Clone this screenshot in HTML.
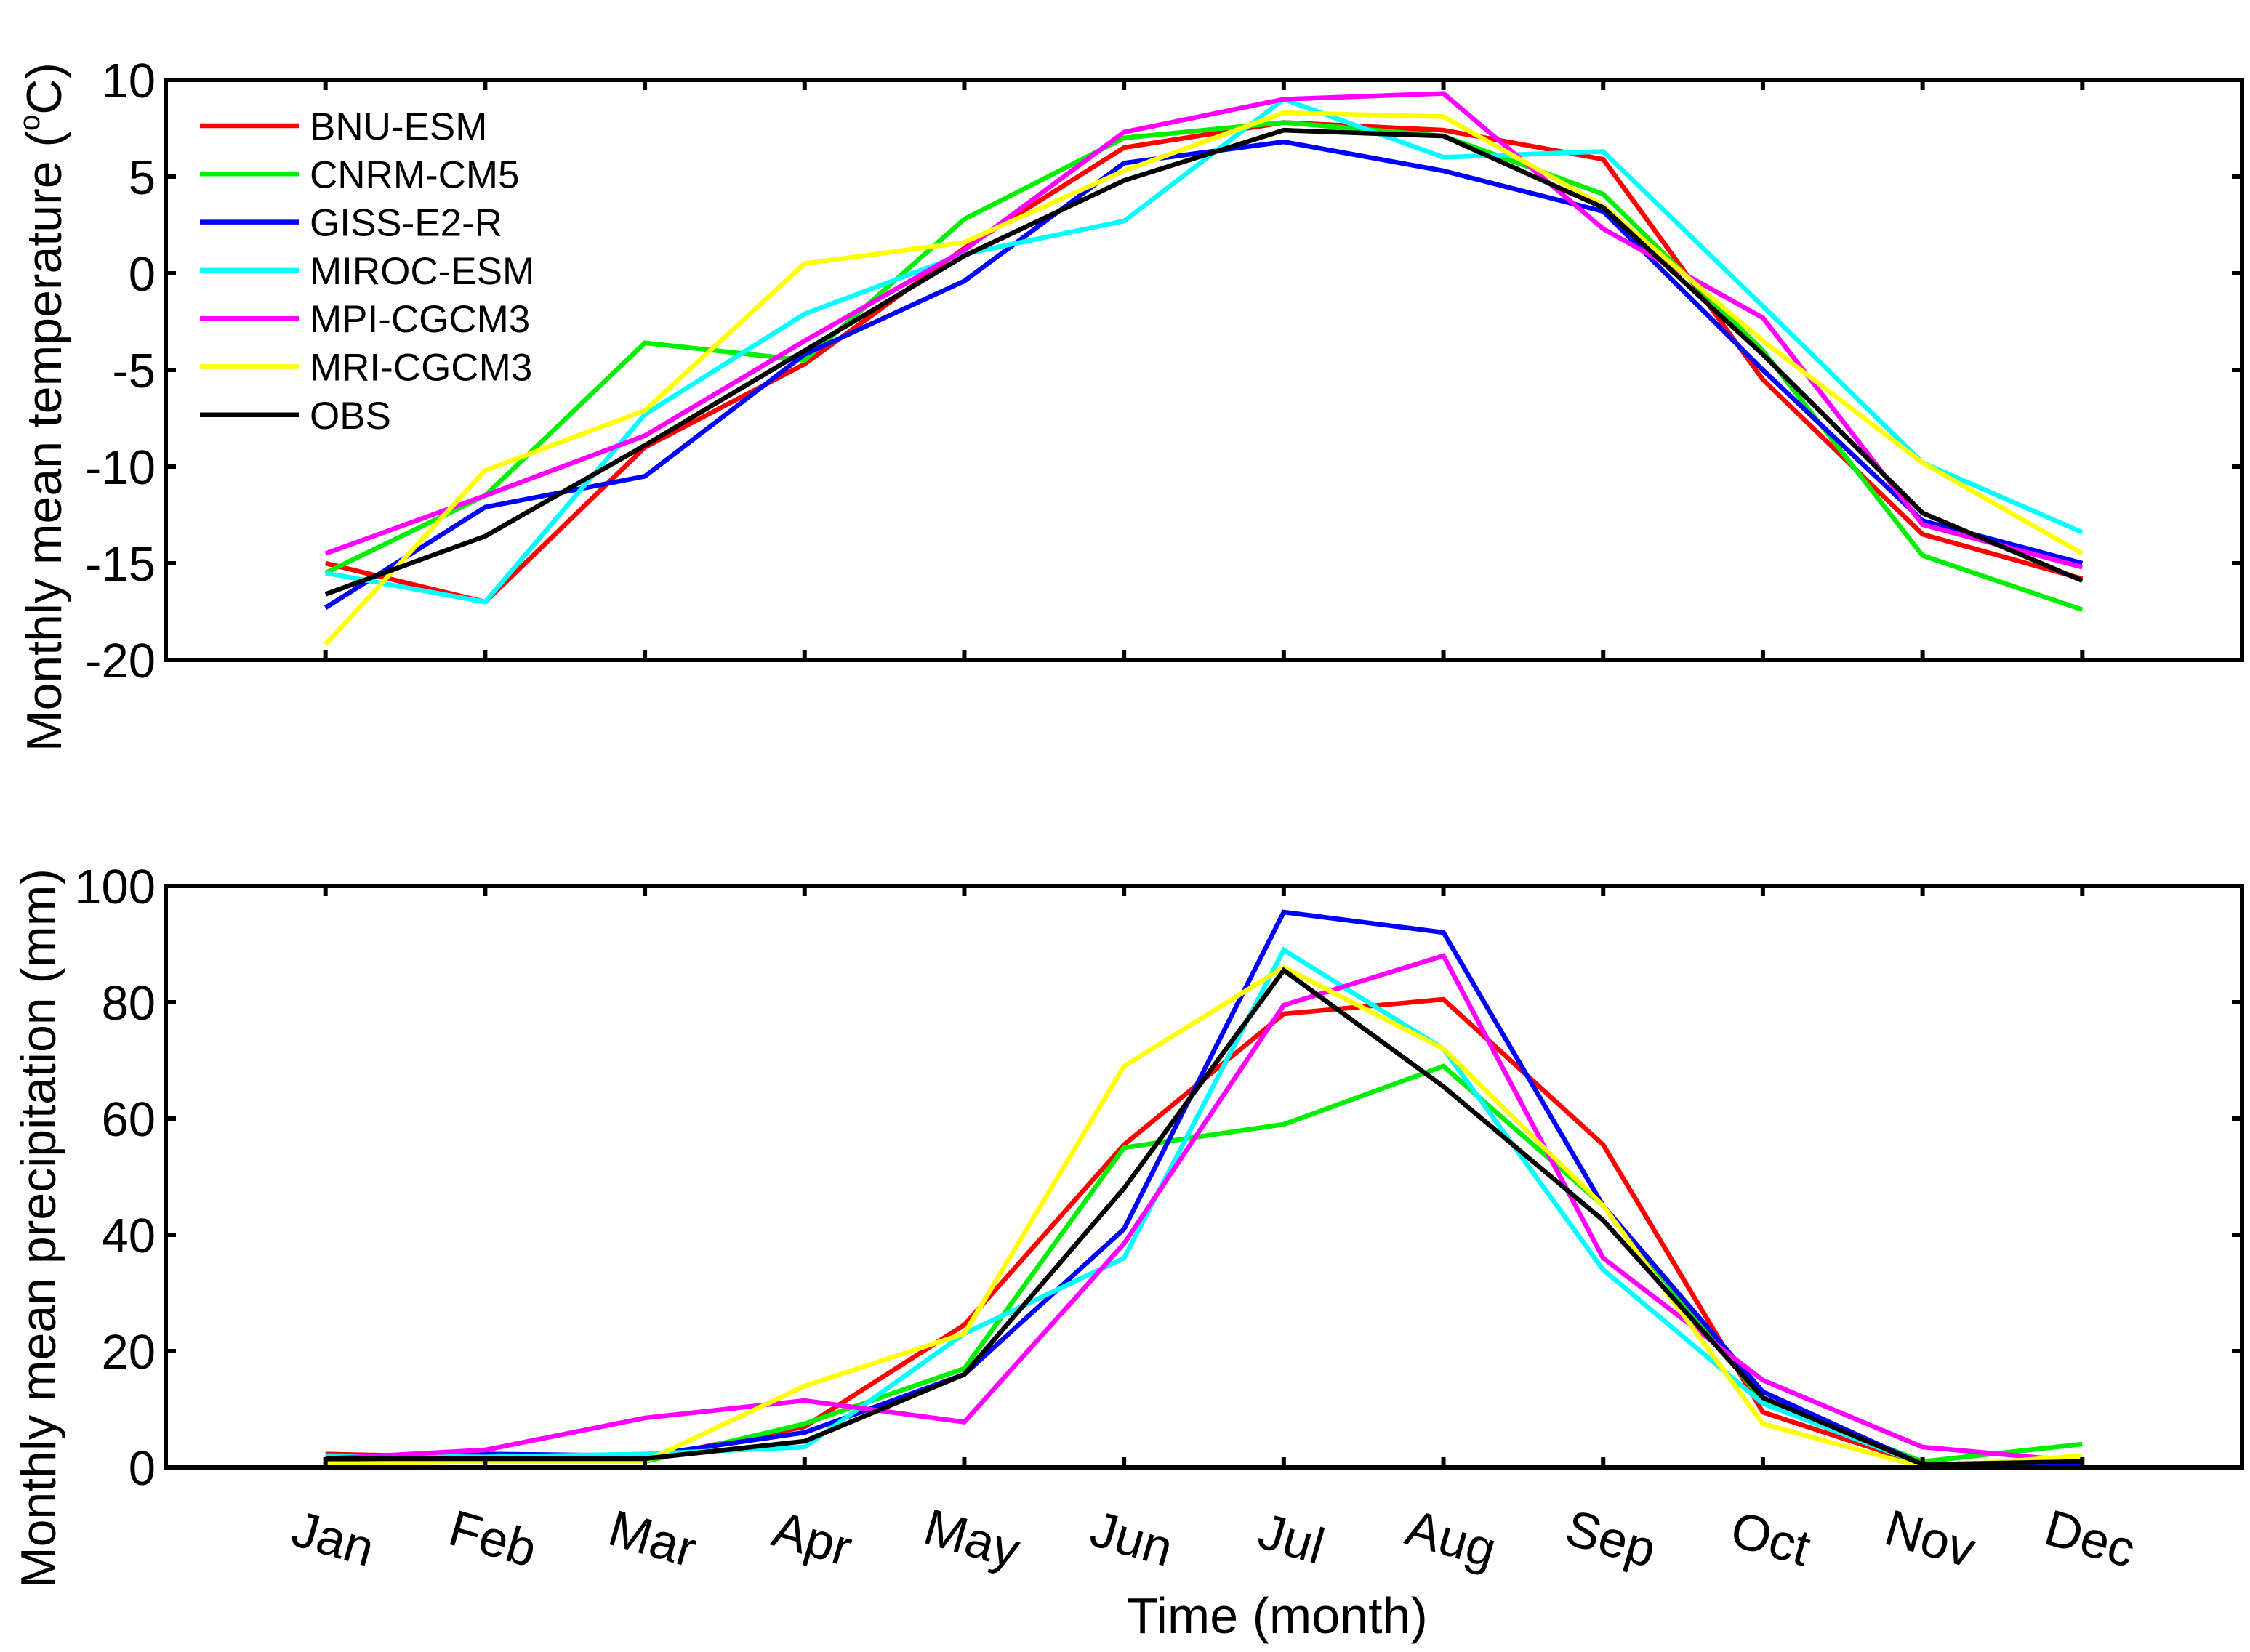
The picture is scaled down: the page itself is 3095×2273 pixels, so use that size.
<!DOCTYPE html>
<html><head><meta charset="utf-8"><style>
html,body{margin:0;padding:0;background:#fff;}
svg{display:block;font-family:"Liberation Sans",Arial,sans-serif;}
</style></head><body>
<svg id="fig" width="3095" height="2273" viewBox="0 0 3095 2273" xmlns="http://www.w3.org/2000/svg">
<rect width="3095" height="2273" fill="#fff"/>
<g id="top"></g>
<g id="bot"></g>
<text x="1757" y="2247" font-size="70" text-anchor="middle">Time (month)</text>
<text transform="translate(84,560) rotate(-90)" font-size="68" text-anchor="middle">Monthly mean temperature (<tspan font-size="40" dy="-30">o</tspan><tspan dy="30">C)</tspan></text>
<text transform="translate(76,1690) rotate(-90)" font-size="68" text-anchor="middle">Monthly mean precipitation (mm)</text>
</svg>
<script>
const months = ["Jan","Feb","Mar","Apr","May","Jun","Jul","Aug","Sep","Oct","Nov","Dec"];
const seriesNames = ["BNU-ESM","CNRM-CM5","GISS-E2-R","MIROC-ESM","MPI-CGCM3","MRI-CGCM3","OBS"];
const seriesColors = ["#ff0000","#00ee00","#0000ff","#00ffff","#ff00ff","#ffff00","#000000"];
const tempBNU   = [-15,-17,-9,-4.7,1.3,6.5,7.8,7.4,5.9,-5.5,-13.5,-15.8];
const tempCNRM  = [-15.5,-11.5,-3.6,-4.5,2.8,7,7.8,7.1,4.1,-4,-14.6,-17.4];
const tempGISS  = [-17.3,-12.1,-10.5,-4.2,-0.4,5.7,6.8,5.3,3.2,-5,-12.8,-15];
const tempMIROC = [-15.5,-17,-7.3,-2.1,1,2.7,9,6,6.3,-1.7,-9.8,-13.4];
const tempMPI   = [-14.5,-11.5,-8.4,-3.5,1.2,7.3,9,9.3,2.3,-2.3,-13,-15.2];
const tempMRI   = [-19.2,-10.2,-7.1,0.5,1.6,5.3,8.3,8.1,3.5,-3.5,-9.8,-14.5];
const tempOBS   = [-16.6,-13.6,-8.9,-4,0.9,4.8,7.4,7.1,3.4,-4.2,-12.4,-15.9];
const precBNU   = [2.3,1.7,1.5,7,24.5,55.5,78,80.5,55.5,9.5,0.5,1];
const precCNRM  = [1,1,1,7.5,17,55,59,69,45,11.5,1,4];
const precGISS  = [1.5,2.3,2,6,16,41,95.5,92,45,13,0.5,0.5];
const precMIROC = [2,1.8,2.3,3.5,23,36,89,72,34,11,0.5,1];
const precMPI   = [1.5,3,8.5,11.5,7.8,38.5,79.5,88,36,15,3.5,1];
const precMRI   = [0.5,1,1,14,23,69,86,72,45,7.5,0,2];
const precOBS   = [1.5,1.5,1.5,4.5,16,48,85.5,65.5,42.5,12,0.5,1];
const tempTicks = [-20,-15,-10,-5,0,5,10];
const precTicks = [0,20,40,60,80,100];

const NS="http://www.w3.org/2000/svg";
function mk(tag,attrs,parent){const e=document.createElementNS(NS,tag);for(const k in attrs)e.setAttribute(k,attrs[k]);parent.appendChild(e);return e;}
const L=228,R=3084;
function xs(i){return L+(i+1)*(R-L)/13;}

function panel(g,top,bottom,ymin,ymax,ticks,series,prefix,legend,labels){
  const ys=v=>bottom-(v-ymin)/(ymax-ymin)*(bottom-top);
  series.forEach((vals,k)=>{
    const p=mk('polyline',{points:vals.map((v,i)=>xs(i)+','+ys(v)).join(' '),fill:'none',stroke:seriesColors[k],'stroke-width':6.5,'stroke-linejoin':'miter'},g);
    
    
  });
  const fr=mk('rect',{x:L,y:top,width:R-L,height:bottom-top,fill:'none',stroke:'#000','stroke-width':6},g);
  
  
  ticks.forEach(t=>{
    const y=ys(t);
    mk('line',{x1:L,y1:y,x2:L+14,y2:y,stroke:'#000','stroke-width':6},g);
    mk('line',{x1:R,y1:y,x2:R-14,y2:y,stroke:'#000','stroke-width':6},g);
    const tx=mk('text',{x:L-14,y:y+24,'font-size':67,'text-anchor':'end'},g);
    tx.textContent=t;
    
    
  });
  months.forEach((m,i)=>{
    const x=xs(i);
    mk('line',{x1:x,y1:top,x2:x,y2:top+14,stroke:'#000','stroke-width':6},g);
    mk('line',{x1:x,y1:bottom,x2:x,y2:bottom-14,stroke:'#000','stroke-width':6},g);
    if(labels){
      const tx=mk('text',{transform:'translate('+(x+4)+',2140) rotate(16)','font-size':70,'text-anchor':'middle'},g);
      tx.textContent=m;
      
      
    }
  });
  if(legend){
    seriesNames.forEach((n,k)=>{
      const y=173+k*66.3;
      const ln=mk('line',{x1:275,y1:y,x2:411,y2:y,stroke:seriesColors[k],'stroke-width':6.5},g);
      
      
      const tx=mk('text',{x:426,y:y+19,'font-size':53},g);
      tx.textContent=n;
      
      
    });
  }
}
panel(document.getElementById('top'),110,908,-20,10,tempTicks,[tempBNU,tempCNRM,tempGISS,tempMIROC,tempMPI,tempMRI,tempOBS],'temp',true,false);
panel(document.getElementById('bot'),1219,2019,0,100,precTicks,[precBNU,precCNRM,precGISS,precMIROC,precMPI,precMRI,precOBS],'prec',false,true);
</script>
</body></html>
